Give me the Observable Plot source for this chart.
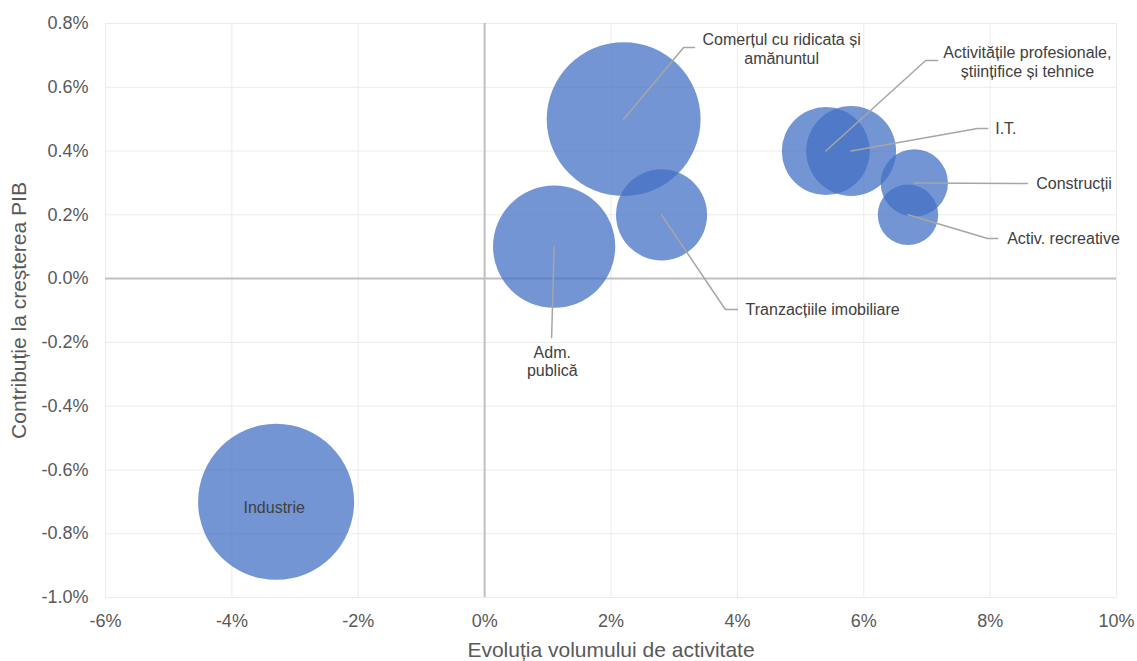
<!DOCTYPE html>
<html><head><meta charset="utf-8">
<script src="https://cdn.jsdelivr.net/npm/d3@7"></script>
<script src="https://cdn.jsdelivr.net/npm/@observablehq/plot@0.6"></script>
<style>body{margin:0;background:#fff}</style>
</head><body><div id="chart"></div>
<script>
// Sectors
const sectoare = ["Industrie", "Comerțul cu ridicata și amănuntul", "Adm. publică", "Tranzacțiile imobiliare",
  "Activitățile profesionale, științifice și tehnice", "I.T.", "Construcții", "Activ. recreative"];
const etichete = ["Industrie", "Comerțul cu ridicata și\namănuntul", "Adm.\npublică", "Tranzacțiile imobiliare",
  "Activitățile profesionale,\nștiințifice și tehnice", "I.T.", "Construcții", "Activ. recreative"];
// Evoluția volumului de activitate (%)
const volum = [-3.3, 2.2, 1.1, 2.8, 5.4, 5.8, 6.8, 6.7];
// Contribuție la creșterea PIB (pp)
const contributie = [-0.7, 0.5, 0.1, 0.2, 0.4, 0.4, 0.3, 0.2];
// Bubble size (weight)
const marime = [22.0, 21.4, 13.5, 7.5, 7.0, 7.3, 4.1, 3.3];

// Annotation anchors (data units)
const cotX = [null, 3.15, 1.06, 3.81, 6.98, 7.80, 8.59, 7.96];
const cotY = [null, 0.725, -0.185, -0.097, 0.684, 0.471, 0.298, 0.126];
const capX = [null, 3.32, 1.06, 4.00, 7.17, 7.96, 8.59, 8.12];
const capY = [null, 0.725, -0.185, -0.097, 0.684, 0.471, 0.298, 0.126];
const etX = [-3.33, 4.70, 1.07, 4.13, 8.59, 8.08, 8.73, 8.27];
const etY = [-0.715, 0.7216, -0.258, -0.097, 0.681, 0.471, 0.298, 0.126];
const etAnchor = ["middle", "middle", "middle", "start", "middle", "start", "start", "start"];

const xTicks = [-6, -4, -2, 0, 2, 4, 6, 8, 10];
const yTicks = [-1.0, -0.8, -0.6, -0.4, -0.2, 0.0, 0.2, 0.4, 0.6, 0.8];
const titluX = "Evoluția volumului de activitate";
const titluY = "Contribuție la creșterea PIB";

const data = sectoare.map((s, i) => ({
  sector: s, label: etichete[i], x: volum[i], y: contributie[i], size: marime[i],
  lx: etX[i], ly: etY[i], anchor: etAnchor[i]
}));
const leaders = [];
sectoare.forEach((s, i) => {
  if (cotX[i] == null) return;
  leaders.push({id: i, x: volum[i], y: contributie[i]});
  leaders.push({id: i, x: cotX[i], y: cotY[i]});
  leaders.push({id: i, x: capX[i], y: capY[i]});
});

const labelStyle = {fontSize: 16, fill: "#404040", lineHeight: 1.15};

const chart = Plot.plot({
  width: 1137, height: 661,
  marginLeft: 105, marginRight: 21, marginTop: 23, marginBottom: 64,
  style: {fontFamily: "'Liberation Sans', Arial, sans-serif", fontSize: "18px", color: "#595959", background: "#fff"},
  x: {domain: [-6, 10]},
  y: {domain: [-1, 0.8]},
  r: {type: "sqrt", domain: [0, 22], range: [0, 78]},
  marks: [
    Plot.gridX(xTicks, {stroke: "#ebebeb", strokeOpacity: 1}),
    Plot.gridY(yTicks, {stroke: "#ebebeb", strokeOpacity: 1}),
    Plot.ruleX([0], {stroke: "#bfbfbf", strokeWidth: 2}),
    Plot.ruleY([0], {stroke: "#bfbfbf", strokeWidth: 2}),
    Plot.axisX(xTicks, {tickSize: 0, tickPadding: 17, tickFormat: d => d + "%", label: null, fill: "#595959"}),
    Plot.axisY(yTicks, {tickSize: 0, tickPadding: 17, tickFormat: d => d.toFixed(1) + "%", label: null, fill: "#595959"}),
    Plot.dot(data, {x: "x", y: "y", r: "size", fill: "#4472C4", fillOpacity: 0.75}),
    Plot.line(leaders, {x: "x", y: "y", z: "id", stroke: "#a6a6a6", strokeWidth: 1.5}),
    Plot.text(data.filter(d => d.anchor === "middle"), {x: "lx", y: "ly", text: "label", textAnchor: "middle", ...labelStyle}),
    Plot.text(data.filter(d => d.anchor === "start"), {x: "lx", y: "ly", text: "label", textAnchor: "start", ...labelStyle}),
    Plot.text([titluX], {text: d => d, frameAnchor: "bottom", textAnchor: "middle", lineAnchor: "middle", dy: 53, fontSize: 21, fill: "#595959"}),
    Plot.text([titluY], {text: d => d, frameAnchor: "left", textAnchor: "middle", lineAnchor: "middle", dx: -86, rotate: -90, fontSize: 21, fill: "#595959"})
  ]
});
document.getElementById("chart").appendChild(chart);
</script>
</body></html>
